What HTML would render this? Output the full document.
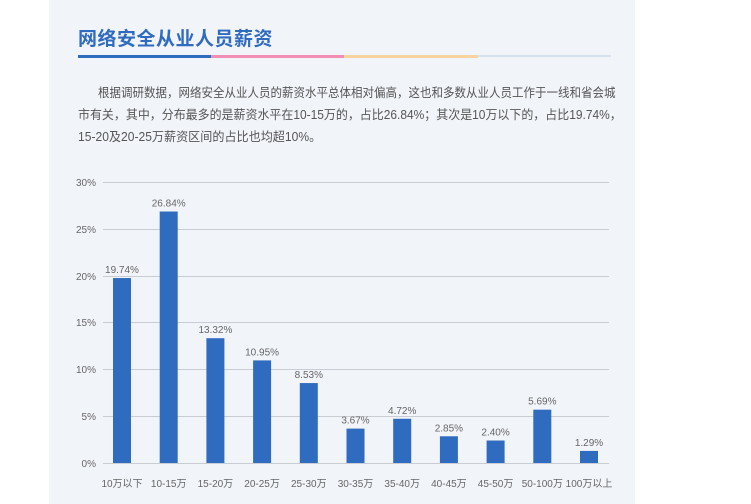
<!DOCTYPE html>
<html><head><meta charset="utf-8"><style>
body{margin:0;background:#fff;width:751px;height:504px;overflow:hidden;position:relative;font-family:"Liberation Sans","Noto Sans CJK SC",sans-serif}
.panel{position:absolute;left:49px;top:0;width:586px;height:504px;background:#f1f4f9}
.t{position:absolute;left:78px;top:24px;font-size:19px;font-weight:bold;color:#2f6bbf;letter-spacing:0.5px}
.bar1{position:absolute;top:55px;height:3px}
.p{position:absolute;font-size:12.5px;color:#555;white-space:nowrap;transform-origin:0 0}
</style></head><body>
<div class="panel"></div>
<div class="t">网络安全从业人员薪资</div>
<div class="bar1" style="left:78px;width:133px;background:#2f6bbf"></div>
<div class="bar1" style="left:211px;width:133px;background:#f08fb3"></div>
<div class="bar1" style="left:344px;width:134px;background:#f7d3a0"></div>
<div class="bar1" style="left:478px;width:133px;background:#d5e0f0;height:2px"></div>
<div class="p" style="left:98px;top:82px;transform:scaleX(0.92)">根据调研数据，网络安全从业人员的薪资水平总体相对偏高，这也和多数从业人员工作于一线和省会城</div>
<div class="p" style="left:78px;top:104px;transform:scaleX(0.957)">市有关，其中，分布最多的是薪资水平在10-15万的，占比26.84%；其次是10万以下的，占比19.74%，</div>
<div class="p" style="left:78px;top:126px;transform:scaleX(0.967)">15-20及20-25万薪资区间的占比也均超10%。</div>
<svg width="751" height="504" style="position:absolute;left:0;top:0" font-family="Liberation Sans, Noto Sans CJK SC, sans-serif">
<g stroke="#c9ccd2" stroke-width="1">
<line x1="103" x2="609" y1="182.5" y2="182.5"/><line x1="103" x2="609" y1="229.5" y2="229.5"/>
<line x1="103" x2="609" y1="276.5" y2="276.5"/><line x1="103" x2="609" y1="322.5" y2="322.5"/>
<line x1="103" x2="609" y1="369.5" y2="369.5"/><line x1="103" x2="609" y1="416.5" y2="416.5"/>
<line x1="103" x2="609" y1="463.5" y2="463.5"/></g>
<g font-size="10" fill="#666" text-anchor="end">
<text x="96" y="186">30%</text><text x="96" y="233">25%</text><text x="96" y="280">20%</text>
<text x="96" y="326">15%</text><text x="96" y="373">10%</text><text x="96" y="420">5%</text><text x="96" y="467">0%</text></g>
<g fill="#2f6bbf" id="bars"></g>
<g font-size="10" fill="#666" text-anchor="middle" id="lbl"></g>
</svg>
<script>
var v=[19.74,26.84,13.32,10.95,8.53,3.67,4.72,2.85,2.40,5.69,1.29];
var c=["10万以下","10-15万","15-20万","20-25万","25-30万","30-35万","35-40万","40-45万","45-50万","50-100万","100万以上"];
var s="",l="";
for(var i=0;i<11;i++){var cx=122+46.7*i,h=v[i]*9.37,y=463-h;
s+='<rect x="'+(cx-9)+'" y="'+y+'" width="18" height="'+h+'"/>';
l+='<text x="'+cx+'" y="'+(y-5)+'">'+v[i].toFixed(2)+'%</text><text x="'+cx+'" y="487">'+c[i]+'</text>';}
document.getElementById("bars").innerHTML=s;document.getElementById("lbl").innerHTML=l;
</script>
</body></html>
